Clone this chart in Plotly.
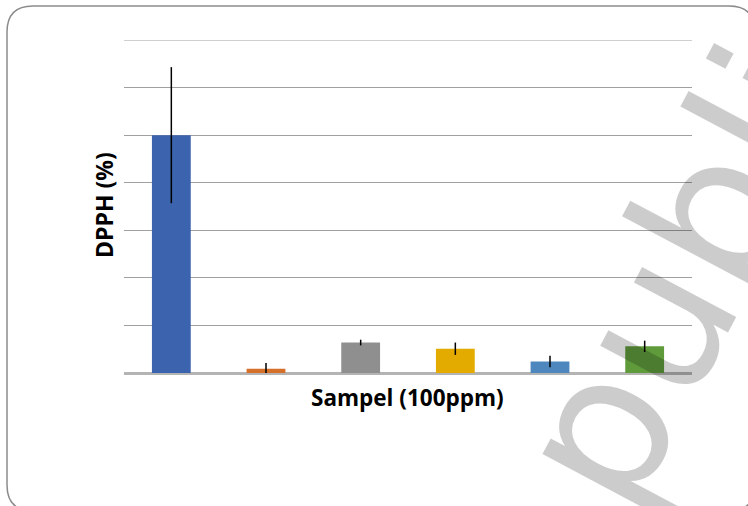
import plotly.graph_objects as go

categories = ["S1", "S2", "S3", "S4", "S5", "S6"]
dpph_values = [50.0, 0.9, 6.4, 5.1, 2.4, 5.6]
dpph_errors = [14.3, 1.2, 0.6, 1.3, 1.2, 1.2]
bar_colors = ["#3C63AD", "#D4702A", "#8F8F8F", "#E3AB00", "#4E87BE", "#5F9B3B"]
y_ticks = [0, 10, 20, 30, 40, 50, 60, 70]
y_max = 70

W, H = 748, 506
L, R, T, B = 124, 56, 40, 133
pw, ph = W - L - R, H - T - B

def px(x):
    return (x - L) / pw

def py(y):
    return (H - B - y) / ph

fig = go.Figure()
fig.add_trace(go.Bar(
    x=categories, y=dpph_values,
    marker=dict(color=bar_colors, line=dict(width=0)),
    error_y=dict(type="data", array=dpph_errors, visible=True,
                 color="#000000", thickness=1.5, width=0),
    showlegend=False, hoverinfo="skip",
))

# top gridline (edge of range)
fig.add_shape(type="line", xref="paper", yref="y", x0=0, x1=1, y0=y_max, y1=y_max,
              line=dict(color="#A0A0A0", width=1), layer="below")

# rounded chart border
l, r, t, b = px(7), px(755), py(6), py(511)
rx, ry = 26 / pw, 26 / ph
path = (f"M {l},{b+ry} L {l},{t-ry} Q {l},{t} {l+rx},{t} "
        f"L {r-rx},{t} Q {r},{t} {r},{t-ry} L {r},{b+ry} "
        f"Q {r},{b} {r-rx},{b} L {l+rx},{b} Q {l},{b} {l},{b+ry} Z")
fig.add_shape(type="path", path=path, xref="paper", yref="paper",
              line=dict(color="#8C8C8C", width=1.5), layer="below")

fig.update_layout(
    width=W, height=H,
    margin=dict(l=L, r=R, t=T, b=B, pad=0),
    paper_bgcolor="white", plot_bgcolor="white",
    bargap=0.59,
    xaxis=dict(showticklabels=False, showgrid=False, ticks="",
               showline=False, zeroline=False),
    yaxis=dict(range=[0, y_max], tickvals=y_ticks, showticklabels=False,
               showgrid=True, gridcolor="#A0A0A0", gridwidth=1,
               zeroline=True, zerolinecolor="#B4B4B4", zerolinewidth=2.5,
               ticks="", showline=False),
    annotations=[
        dict(text="<b>Sampel (100ppm)</b>", xref="paper", yref="paper",
             x=px(407), y=py(397), xanchor="center", yanchor="middle",
             showarrow=False, font=dict(family="Open Sans", size=22.5, color="#000000")),
        dict(text="<b>DPPH (%)</b>", xref="paper", yref="paper",
             x=px(104), y=py(205), xanchor="center", yanchor="middle",
             textangle=-90, showarrow=False,
             font=dict(family="Open Sans", size=23, color="#000000")),
        dict(text="publi", xref="paper", yref="paper",
             x=px(681), y=py(276), xanchor="center", yanchor="middle",
             textangle=-62, showarrow=False,
             font=dict(family="DejaVu Sans", size=195, color="rgba(0,0,0,0.2)")),
    ],
)

fig.write_html("out.html", config={"displayModeBar": False},
               post_script="document.body.style.margin='0';document.body.style.overflow='hidden';")
